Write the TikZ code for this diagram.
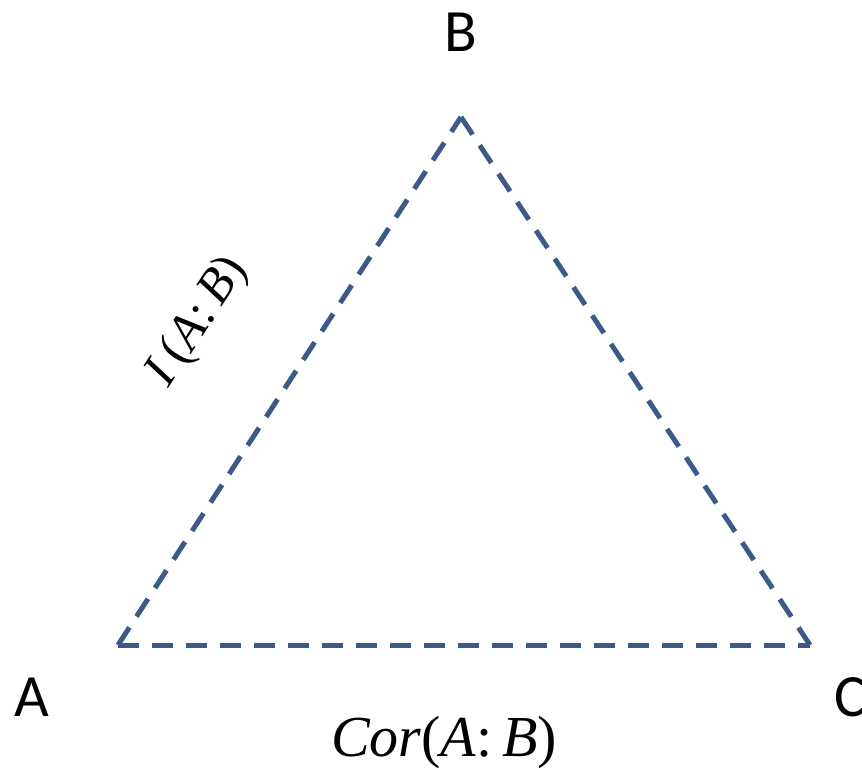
\documentclass[tikz,border=0pt]{standalone}
\usepackage{fontspec}
\setmainfont{Carlito}
\newfontfamily\mathserif{Liberation Serif}
\usepackage{xcolor}
\usetikzlibrary{positioning, calc}
\definecolor{linkblue}{RGB}{60,90,135}

\begin{document}
\begin{tikzpicture}[
        x=1pt, y=-1pt,
        % Define styles for the triangle elements
        corner/.style={font=\fontsize{60}{60}\selectfont, inner sep=0pt},
        link/.style={draw=linkblue, line width=5pt, dash pattern=on 21pt off 13pt},
        measure/.style={font=\mathserif\fontsize{58}{58}\selectfont, inner sep=0pt}
    ]
        \useasboundingbox (0,0) rectangle (862,769);

        % --------------------------------------------------------
        % Vertices
        % --------------------------------------------------------
        \coordinate (a) at (118,645);
        \coordinate (b) at (461,117);
        \coordinate (c) at (810,645);

        \node[corner] (la) at (32,697) {A};
        \node[corner] (lb) at (461,32) {B};
        \node[corner] (lc) at (850,697) {C};

        % --------------------------------------------------------
        % Sides
        % --------------------------------------------------------
        \draw[link] (a) -- (b);
        \draw[link] (b) -- (c);
        \draw[link] (a) -- (c);

        % Labels on the sides
        \node[measure, font=\mathserif\fontsize{50}{50}\selectfont, rotate=57] (mi) at (198,322) {\textit{I}\,(\textit{A}:\,\textit{B})};
        \node[measure] (cor) at (444,743) {\textit{Cor}(\textit{A}:\,\textit{B})};

    \end{tikzpicture}
\end{document}
